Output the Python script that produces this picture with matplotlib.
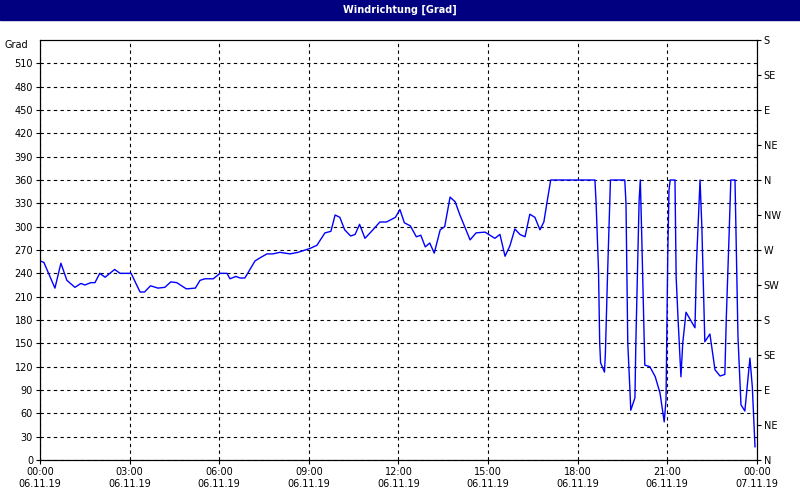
import matplotlib
matplotlib.use("Agg")
import matplotlib.pyplot as plt

hours = [0,0.13,0.5,0.7,0.9,1.17,1.37,1.5,1.7,1.84,2.0,2.18,2.5,2.68,3.05,3.35,3.5,3.7,3.95,4.18,4.38,4.58,4.9,5.2,5.36,5.52,5.8,6.03,6.26,6.36,6.56,6.7,6.86,7.2,7.37,7.6,7.8,8.03,8.37,8.64,9.04,9.27,9.54,9.74,9.88,10.04,10.2,10.4,10.55,10.7,10.88,11.1,11.38,11.6,11.9,12.05,
         12.2,12.4,12.6,12.75,12.9,13.05,13.2,13.4,13.55,13.73,13.9,14.06,14.4,14.6,14.9,15.23,15.4,15.57,15.73,15.9,16.07,16.24,16.4,16.57,16.74,16.87,16.97,17.1,18.58,
         18.62,18.7,18.74,18.77,18.9,18.93,19.0,19.1,19.58,19.62,19.68,19.75,19.78,19.92,19.95,20.02,20.06,20.1,20.14,20.25,20.42,20.6,20.76,20.9,20.96,21.02,21.06,21.1,21.26,21.3,21.36,21.46,21.52,21.63,21.93,21.98,22.1,22.16,22.26,22.43,22.6,22.77,22.93,22.98,23.07,23.13,23.27,23.37,23.47,23.6,23.77,23.85,23.94]
deg = [256,254,221,253,231,222,227,225,228,228,240,235,245,240,240,216,216,224,221,222,229,228,220,221,231,233,233,240,240,233,236,234,234,256,260,265,265,267,265,267,272,276,292,294,315,312,296,288,290,303,285,294,306,306,312,322,
       305,301,287,289,274,279,266,296,300,338,332,315,283,292,293,285,290,262,275,297,290,287,316,312,296,306,330,360,360,
       330,244,150,125,113,137,235,360,360,330,150,92,64,80,150,266,334,360,300,122,120,107,86,49,77,266,347,360,360,235,184,107,150,190,170,253,360,300,152,162,116,108,110,184,287,360,360,158,71,63,131,94,17]

yticks = list(range(0, 511, 30))
rticks = list(range(0, 541, 45))
rlabels = ["N","NE","E","SE","S","SW","W","NW","N","NE","E","SE","S"]
xticks = list(range(0, 25, 3))
xlabels = [f"{h:02d}:00\n06.11.19" for h in range(0, 24, 3)] + ["00:00\n07.11.19"]

plt.rcParams['font.family'] = ['DejaVu Sans']
fig = plt.figure(figsize=(8, 5), dpi=100, facecolor='white')
ax = fig.add_axes([0.05, 0.08, 0.896, 0.84])
ax.plot(hours, deg, color='#0000ff', lw=1)
ax.set_xlim(0, 24)
ax.set_ylim(0, 540)
ax.set_yticks(yticks)
ax.set_yticklabels([str(v) for v in yticks], fontsize=7)
ax.set_xticks(xticks)
ax.set_xticklabels(xlabels, fontsize=7)
ax.tick_params(length=3, pad=2)
ax.grid(True, color='black', linestyle=(0, (3, 3)), lw=0.8)
ax2 = ax.twinx()
ax2.set_ylim(0, 540)
ax2.set_yticks(rticks)
ax2.set_yticklabels(rlabels, fontsize=7)
ax2.tick_params(length=3, pad=2)
for a in (ax, ax2):
    for s in a.spines.values():
        s.set_color('black')
fig.text(0.035, 0.91, "Grad", fontsize=7, ha='right', va='center')
fig.patches.append(matplotlib.patches.Rectangle((0, 0.96), 1, 0.04, transform=fig.transFigure, color='#000080', zorder=0))
fig.text(0.5, 0.98, "Windrichtung [Grad]", color='white', fontsize=7, fontweight='bold', ha='center', va='center')
fig.savefig("out.png", dpi=100)
